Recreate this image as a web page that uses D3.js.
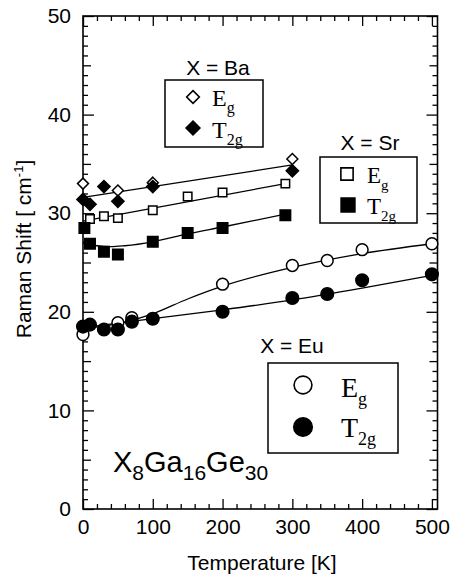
<!DOCTYPE html>
<html><head><meta charset="utf-8">
<script src="https://cdn.jsdelivr.net/npm/d3@7"></script>
<style>
body{margin:0;background:#fff}
svg{display:block}
text{font-family:"Liberation Sans",Arial,Helvetica,sans-serif;fill:#000}
.serif{font-family:"Liberation Serif","Times New Roman",serif}
</style>
</head><body>
<svg id="c" width="451" height="580"></svg>
<script>
// ---- data ----
const xMajorTicks = [0, 100, 200, 300, 400, 500];
const yMajorTicks = [0, 10, 20, 30, 40, 50];

const baEgT  = [0, 50, 100, 300];
const baEgV  = [33.0, 32.3, 33.1, 35.5];
const baT2gT = [0, 10, 30, 50, 100, 300];
const baT2gV = [31.4, 30.9, 32.7, 31.2, 32.7, 34.3];
const baFitT = [0, 300];
const baFitV = [31.6, 34.9];

const srEgT  = [10, 30, 50, 100, 150, 200, 290];
const srEgV  = [29.4, 29.7, 29.5, 30.3, 31.7, 32.1, 33.0];
const srT2gT = [2, 10, 30, 50, 100, 150, 200, 290];
const srT2gV = [28.5, 26.9, 26.1, 25.8, 27.1, 28.0, 28.5, 29.8];
const srEgFitT  = [0, 290];
const srEgFitV  = [29.2, 33.0];
const srT2gFitT = [0, 20, 40, 60, 100, 150, 200, 290];
const srT2gFitV = [27.1, 26.7, 26.6, 26.7, 27.1, 27.9, 28.6, 29.9];

const euEgT  = [0, 50, 70, 200, 300, 350, 400, 500];
const euEgV  = [17.7, 18.9, 19.4, 22.8, 24.7, 25.2, 26.3, 26.9];
const euT2gT = [0, 10, 30, 50, 70, 100, 200, 300, 350, 400, 500];
const euT2gV = [18.5, 18.7, 18.2, 18.2, 19.0, 19.3, 20.0, 21.4, 21.8, 23.2, 23.8];
const euEgFitT  = [0, 50, 100, 150, 200, 300, 400, 500];
const euEgFitV  = [18.3, 18.8, 19.8, 21.3, 22.6, 24.5, 25.9, 26.9];
const euT2gFitT = [0, 100, 200, 300, 400, 500];
const euT2gFitV = [18.4, 19.3, 20.2, 21.2, 22.4, 23.7];

// ---- layout ----
const svg = d3.select("#c");
const x = d3.scaleLinear([0, 508], [83, 437.5]);
const y = d3.scaleLinear([0, 50], [509, 16]);
const X0 = x.range()[0], X1 = x.range()[1], Y0 = y.range()[0], Y1 = y.range()[1];

const xMinor = d3.range(0, 501, 20).filter(v => v % 100 !== 0);
const yMinor = d3.range(0, 51, 1).filter(v => v % 5 !== 0);
const yMid = d3.range(5, 50, 10);

function styleAxis(g, showText){
  g.select(".domain").remove();
  g.selectAll(".tick line").attr("stroke","#000").attr("stroke-width",1.3);
  if(!showText) g.selectAll(".tick text").remove();
  else g.selectAll(".tick text").attr("font-size",21).attr("fill","#000")
        .attr("font-family","'Liberation Sans',Arial,sans-serif");
}
// bottom
svg.append("g").attr("transform",`translate(0,${Y0})`)
  .call(d3.axisBottom(x).tickValues(xMajorTicks).tickSizeInner(-10).tickSizeOuter(0).tickPadding(10))
  .call(g=>styleAxis(g,true));
svg.append("g").attr("transform",`translate(0,${Y0})`)
  .call(d3.axisBottom(x).tickValues(xMinor).tickSizeInner(-5).tickSizeOuter(0))
  .call(g=>styleAxis(g,false));
// top
svg.append("g").attr("transform",`translate(0,${Y1})`)
  .call(d3.axisTop(x).tickValues(xMajorTicks).tickSizeInner(-10).tickSizeOuter(0))
  .call(g=>styleAxis(g,false));
svg.append("g").attr("transform",`translate(0,${Y1})`)
  .call(d3.axisTop(x).tickValues(xMinor).tickSizeInner(-5).tickSizeOuter(0))
  .call(g=>styleAxis(g,false));
// left
svg.append("g").attr("transform",`translate(${X0},0)`)
  .call(d3.axisLeft(y).tickValues(yMajorTicks).tickSizeInner(-11).tickSizeOuter(0).tickPadding(12))
  .call(g=>styleAxis(g,true));
svg.append("g").attr("transform",`translate(${X0},0)`)
  .call(d3.axisLeft(y).tickValues(yMid).tickSizeInner(-8).tickSizeOuter(0))
  .call(g=>styleAxis(g,false));
svg.append("g").attr("transform",`translate(${X0},0)`)
  .call(d3.axisLeft(y).tickValues(yMinor).tickSizeInner(-5).tickSizeOuter(0))
  .call(g=>styleAxis(g,false));
// right
svg.append("g").attr("transform",`translate(${X1},0)`)
  .call(d3.axisRight(y).tickValues(yMajorTicks).tickSizeInner(-11).tickSizeOuter(0))
  .call(g=>styleAxis(g,false));
svg.append("g").attr("transform",`translate(${X1},0)`)
  .call(d3.axisRight(y).tickValues(yMid).tickSizeInner(-8).tickSizeOuter(0))
  .call(g=>styleAxis(g,false));
svg.append("g").attr("transform",`translate(${X1},0)`)
  .call(d3.axisRight(y).tickValues(yMinor).tickSizeInner(-5).tickSizeOuter(0))
  .call(g=>styleAxis(g,false));

// frame
svg.append("rect").attr("x",X0).attr("y",Y1).attr("width",X1-X0).attr("height",Y0-Y1)
  .attr("fill","none").attr("stroke","#000").attr("stroke-width",1.6);

// axis titles
svg.append("text").attr("x",262).attr("y",570).attr("text-anchor","middle")
  .attr("font-size",21).text("Temperature [K]");
const yt = svg.append("text").attr("transform","translate(31,249) rotate(-90)")
  .attr("text-anchor","middle").attr("font-size",21);
yt.append("tspan").text("Raman Shift [ cm");
yt.append("tspan").attr("font-size",13).attr("dy",-8).text("-1");
yt.append("tspan").attr("dy",8).text("]");

// fit lines
const line = d3.line().x(d=>x(d[0])).y(d=>y(d[1])).curve(d3.curveMonotoneX);
const fits = [[baFitT,baFitV],[srEgFitT,srEgFitV],[srT2gFitT,srT2gFitV],[euEgFitT,euEgFitV],[euT2gFitT,euT2gFitV]];
fits.forEach(([t,v])=>{
  svg.append("path").attr("d",line(d3.zip(t,v))).attr("fill","none")
    .attr("stroke","#000").attr("stroke-width",1.3);
});

// symbols
const diamondSq = {draw(ctx,size){const r=Math.sqrt(size/2);ctx.moveTo(0,-r);ctx.lineTo(r,0);ctx.lineTo(0,r);ctx.lineTo(-r,0);ctx.closePath();}};
function marks(t,v,type,size,filled){
  svg.append("g").selectAll("path").data(d3.zip(t,v)).join("path")
    .attr("transform",d=>`translate(${x(d[0])},${y(d[1])})`)
    .attr("d",d3.symbol(type,size))
    .attr("fill",filled?"#000":"#fff").attr("stroke","#000").attr("stroke-width",1.5);
}
marks(srEgT,srEgV,d3.symbolSquare,72,false);
marks(srT2gT,srT2gV,d3.symbolSquare,110,true);
marks(euEgT,euEgV,d3.symbolCircle,110,false);
marks(euT2gT,euT2gV,d3.symbolCircle,125,true);
marks(baEgT,baEgV,diamondSq,60,false);
marks(baT2gT,baT2gV,diamondSq,75,true);

// legends
function legend(title,tx,ty,box,items,fs,subfs){
  svg.append("text").attr("x",tx).attr("y",ty).attr("text-anchor","middle").attr("font-size",21).text(title);
  svg.append("rect").attr("x",box[0]).attr("y",box[1]).attr("width",box[2]-box[0]).attr("height",box[3]-box[1])
    .attr("fill","#fff").attr("stroke","#000").attr("stroke-width",1.5);
  items.forEach(it=>{
    svg.append("path").attr("transform",`translate(${it.mx},${it.my})`)
      .attr("d",d3.symbol(it.type,it.size))
      .attr("fill",it.filled?"#000":"#fff").attr("stroke","#000").attr("stroke-width",1.6);
    const t = svg.append("text").attr("class","serif").attr("x",it.tx).attr("y",it.ty).attr("font-size",fs);
    t.append("tspan").text(it.main);
    t.append("tspan").attr("font-size",subfs).attr("dy",fs*0.3).text(it.sub);
  });
}
legend("X = Ba",218,75,[165,80,263,147],[
  {mx:193,my:97,type:diamondSq,size:80,filled:false,tx:212,ty:106,main:"E",sub:"g"},
  {mx:193,my:128,type:diamondSq,size:95,filled:true,tx:212,ty:138,main:"T",sub:"2g"}
],24,16);
legend("X = Sr",370,150,[320,157,417,223],[
  {mx:347,my:174,type:d3.symbolSquare,size:150,filled:false,tx:367,ty:183,main:"E",sub:"g"},
  {mx:348,my:205,type:d3.symbolSquare,size:190,filled:true,tx:367,ty:214,main:"T",sub:"2g"}
],23,15);
legend("X = Eu",292,353,[268,363,398,453],[
  {mx:303,my:385,type:d3.symbolCircle,size:250,filled:false,tx:341,ty:397,main:"E",sub:"g"},
  {mx:303,my:427,type:d3.symbolCircle,size:270,filled:true,tx:341,ty:437,main:"T",sub:"2g"}
],28,18);

// compound label
const cl = svg.append("text").attr("x",113).attr("y",472).attr("font-size",29);
[["X",0],["8",1],["Ga",0],["16",1],["Ge",0],["30",1]].forEach(([s,sub],i,arr)=>{
  const prevSub = i>0 ? arr[i-1][1] : 0;
  const dy = sub && !prevSub ? 8 : (!sub && prevSub ? -8 : 0);
  cl.append("tspan").attr("font-size",sub?21:29).attr("dy",dy).text(s);
});
</script>
</body></html>
